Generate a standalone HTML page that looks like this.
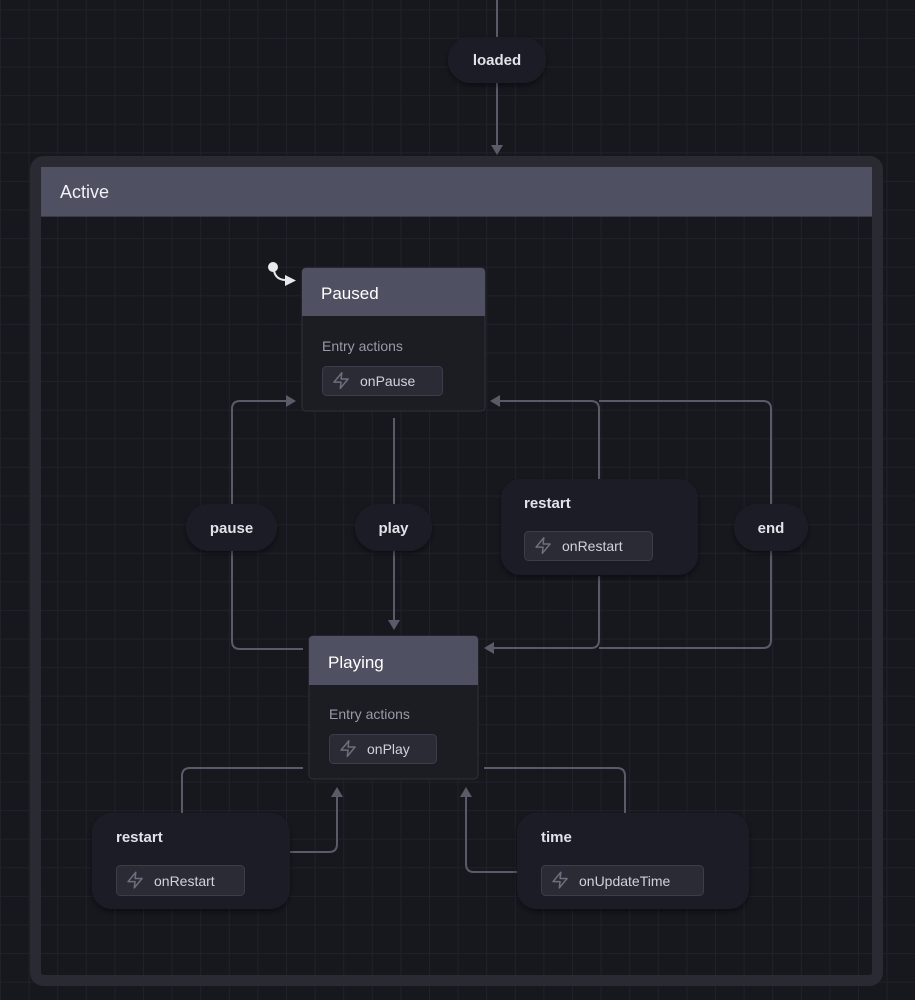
<!DOCTYPE html>
<html>
<head>
<meta charset="utf-8">
<style>
  html,body{margin:0;padding:0;background:#17171e;}
  body{width:915px;height:1000px;overflow:hidden;}
  svg{display:block;}
  text{font-family:"Liberation Sans",sans-serif;}
</style>
</head>
<body>
<svg width="915" height="1000" viewBox="0 0 915 1000" xmlns="http://www.w3.org/2000/svg">
  <defs>
    <pattern id="grid" x="0" y="9.3" width="28.6" height="28.6" patternUnits="userSpaceOnUse">
      <path d="M0.5 0 V28.6 M0 0.5 H28.6" stroke="#21212b" stroke-width="1" fill="none"/>
    </pattern>
    <filter id="sh" x="-20%" y="-20%" width="140%" height="150%">
      <feDropShadow dx="0" dy="3" stdDeviation="3" flood-color="#000" flood-opacity="0.45"/>
    </filter>
    <g id="zap">
      <path d="M13 2 L3 14 H12 L11 22 L21 10 H12 L13 2 Z" fill="none" stroke="#6e6f7e" stroke-width="1.9" stroke-linejoin="round"/>
    </g>
  </defs>

  <rect width="915" height="1000" fill="#17171e"/>
  <rect width="915" height="1000" fill="url(#grid)"/>

  <!-- top edge into loaded -->
  <g stroke="#5a5b69" stroke-width="2" fill="none">
    <path d="M497 0 V37"/>
    <path d="M497 83 V146"/>
  </g>
  <polygon points="491,145 503,145 497,155" fill="#5a5b69"/>

  <!-- loaded pill -->
  <rect x="448" y="37" width="98" height="46" rx="23" fill="#1f1f26" filter="url(#sh)"/>
  <text x="497" y="65" font-size="15" font-weight="bold" fill="#e2e2e8" text-anchor="middle">loaded</text>

  <!-- Active container -->
  <rect x="35.5" y="161.5" width="842" height="819" rx="8" fill="none" stroke="#2a2a33" stroke-width="11"/>
  <rect x="41" y="167" width="831" height="50" fill="#4f5061"/>
  <line x1="41" y1="216.5" x2="872" y2="216.5" stroke="#3a3a46" stroke-width="1"/>
  <text x="60" y="198" font-size="18" fill="#f0f0f5">Active</text>

  <!-- edges -->
  <g stroke="#5a5b69" stroke-width="2" fill="none">
    <!-- pause -->
    <path d="M303 649 H240 Q232 649 232 641 V551"/>
    <path d="M232 504 V409 Q232 401 240 401 H288"/>
    <!-- play -->
    <path d="M394 418 V504"/>
    <path d="M394 551 V622"/>
    <!-- restart / end to Paused -->
    <path d="M599 479 V409 Q599 401 591 401 H498"/>
    <path d="M771 504 V409 Q771 401 763 401 H599"/>
    <!-- restart / end to Playing -->
    <path d="M599 576 V640 Q599 648 591 648 H492"/>
    <path d="M771 551 V640 Q771 648 763 648 H599"/>
    <!-- bottom restart -->
    <path d="M303 768 H190 Q182 768 182 776 V813"/>
    <path d="M290 852 H329 Q337 852 337 844 V796"/>
    <!-- time -->
    <path d="M484 768 H617 Q625 768 625 776 V813"/>
    <path d="M517 872 H474 Q466 872 466 864 V796"/>
  </g>
  <g fill="#5a5b69">
    <polygon points="286,395 296,401 286,407"/>
    <polygon points="388,620 400,620 394,630"/>
    <polygon points="500,395 490,401 500,407"/>
    <polygon points="494,642 484,648 494,654"/>
    <polygon points="331,797 343,797 337,787"/>
    <polygon points="460,797 472,797 466,787"/>
  </g>

  <!-- initial marker -->
  <circle cx="273" cy="267" r="5" fill="#e8e8ee"/>
  <path d="M274 271 Q276 280 286 280" stroke="#e8e8ee" stroke-width="2" fill="none"/>
  <polygon points="285,275 296,280.5 285,286" fill="#e8e8ee"/>

  <!-- Paused state -->
  <rect x="302" y="268" width="183" height="143" rx="4" fill="#1c1c23" stroke="#30303a" stroke-width="1"/>
  <path d="M302 316 V272 Q302 268 306 268 H481 Q485 268 485 272 V316 Z" fill="#4f5061"/>
  <text x="321" y="299" font-size="17" fill="#ffffff">Paused</text>
  <text x="322" y="351" font-size="14" fill="#9a9aa6">Entry actions</text>
  <rect x="322.5" y="366.5" width="120" height="29" rx="4" fill="#2a2b35" stroke="#3c3d4a"/>
  <use href="#zap" transform="translate(331.7,371.2) scale(0.78)"/>
  <text x="360" y="386" font-size="14" fill="#d2d2da">onPause</text>

  <!-- Playing state -->
  <rect x="309" y="636" width="169" height="143" rx="4" fill="#1c1c23" stroke="#30303a" stroke-width="1"/>
  <path d="M309 685 V640 Q309 636 313 636 H474 Q478 636 478 640 V685 Z" fill="#4f5061"/>
  <text x="328" y="668" font-size="17" fill="#ffffff">Playing</text>
  <text x="329" y="719" font-size="14" fill="#9a9aa6">Entry actions</text>
  <rect x="329.5" y="734.5" width="107" height="29" rx="4" fill="#2a2b35" stroke="#3c3d4a"/>
  <use href="#zap" transform="translate(338.7,739.2) scale(0.78)"/>
  <text x="367" y="754" font-size="14" fill="#d2d2da">onPlay</text>

  <!-- pause pill -->
  <rect x="186" y="504" width="91" height="47" rx="23.5" fill="#1f1f26" filter="url(#sh)"/>
  <text x="231.5" y="533" font-size="15" font-weight="bold" fill="#e2e2e8" text-anchor="middle">pause</text>

  <!-- play pill -->
  <rect x="355" y="504" width="77" height="47" rx="23.5" fill="#1f1f26" filter="url(#sh)"/>
  <text x="393.5" y="533" font-size="15" font-weight="bold" fill="#e2e2e8" text-anchor="middle">play</text>

  <!-- end pill -->
  <rect x="734" y="504" width="74" height="47" rx="23.5" fill="#1f1f26" filter="url(#sh)"/>
  <text x="771" y="533" font-size="15" font-weight="bold" fill="#e2e2e8" text-anchor="middle">end</text>

  <!-- restart (top) -->
  <rect x="501" y="479" width="197" height="96" rx="20" fill="#1f1f26" filter="url(#sh)"/>
  <text x="524" y="508" font-size="15" font-weight="bold" fill="#e2e2e8">restart</text>
  <rect x="524.5" y="531.5" width="128" height="29" rx="4" fill="#2a2b35" stroke="#3c3d4a"/>
  <use href="#zap" transform="translate(533.7,536.2) scale(0.78)"/>
  <text x="562" y="551" font-size="14" fill="#d2d2da">onRestart</text>

  <!-- restart (bottom) -->
  <rect x="92" y="813" width="198" height="96" rx="20" fill="#1f1f26" filter="url(#sh)"/>
  <text x="116" y="842" font-size="15" font-weight="bold" fill="#e2e2e8">restart</text>
  <rect x="116.5" y="865.5" width="128" height="30" rx="4" fill="#2a2b35" stroke="#3c3d4a"/>
  <use href="#zap" transform="translate(125.7,870.7) scale(0.78)"/>
  <text x="154" y="886" font-size="14" fill="#d2d2da">onRestart</text>

  <!-- time -->
  <rect x="517" y="813" width="232" height="96" rx="20" fill="#1f1f26" filter="url(#sh)"/>
  <text x="541" y="842" font-size="15" font-weight="bold" fill="#e2e2e8">time</text>
  <rect x="541.5" y="865.5" width="162" height="30" rx="4" fill="#2a2b35" stroke="#3c3d4a"/>
  <use href="#zap" transform="translate(550.7,870.7) scale(0.78)"/>
  <text x="579" y="886" font-size="14" fill="#d2d2da">onUpdateTime</text>
</svg>
</body>
</html>
